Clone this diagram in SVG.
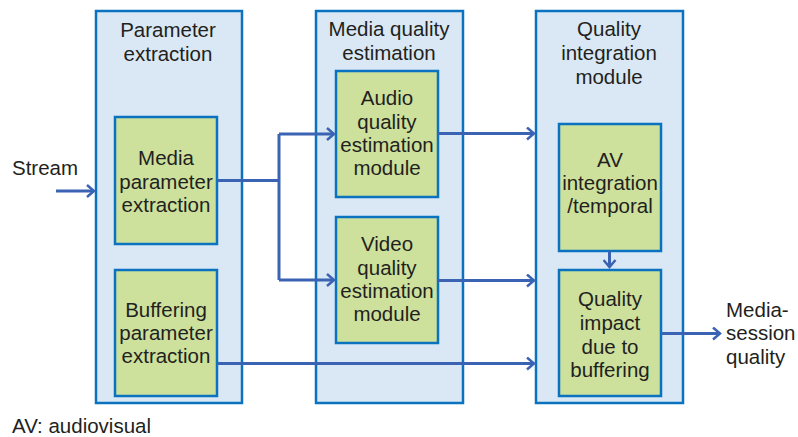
<svg xmlns="http://www.w3.org/2000/svg" width="798" height="437" viewBox="0 0 798 437">
<defs>
<style>
.outer{fill:#d9e8f4;stroke:#0a72bf;stroke-width:2.5}
.inner{fill:#cde19c;stroke:#0a72bf;stroke-width:2.5}
.t{font-family:"Liberation Sans",Arial,sans-serif;font-size:20.5px;fill:#231f20;text-anchor:middle}
.tl{font-family:"Liberation Sans",Arial,sans-serif;font-size:20.5px;fill:#231f20}
.c{fill:none;stroke:#3b63b3;stroke-width:3}
</style>
<marker id="ah" markerWidth="14" markerHeight="14" refX="10" refY="7" orient="auto" markerUnits="userSpaceOnUse">
<path d="M3,1 L10,7 L3,13" fill="none" stroke="#3b63b3" stroke-width="2.5"/>
</marker>
</defs>
<rect width="798" height="437" fill="#ffffff"/>
<g id="param-extraction">
<rect class="outer" x="96" y="11" width="146" height="392"/>
<text class="t" x="168" y="37">Parameter</text>
<text class="t" x="168" y="61">extraction</text>
</g>
<g id="media-quality-estimation">
<rect class="outer" x="316" y="11" width="147" height="392"/>
<text class="t" x="389" y="36">Media quality</text>
<text class="t" x="389" y="60">estimation</text>
</g>
<g id="quality-integration">
<rect class="outer" x="536" y="11" width="147" height="392"/>
<text class="t" x="609" y="36">Quality</text>
<text class="t" x="609" y="60">integration</text>
<text class="t" x="609" y="84">module</text>
</g>
<g id="media-param">
<rect class="inner" x="115" y="117" width="102" height="127"/>
<text class="t" x="166" y="165">Media</text>
<text class="t" x="166" y="189">parameter</text>
<text class="t" x="166" y="212">extraction</text>
</g>
<g id="buffering-param">
<rect class="inner" x="115" y="270" width="102" height="126"/>
<text class="t" x="166" y="317">Buffering</text>
<text class="t" x="166" y="340">parameter</text>
<text class="t" x="166" y="363">extraction</text>
</g>
<g id="audio">
<rect class="inner" x="336" y="71" width="102" height="126"/>
<text class="t" x="387" y="105">Audio</text>
<text class="t" x="387" y="129">quality</text>
<text class="t" x="387" y="152">estimation</text>
<text class="t" x="387" y="175">module</text>
</g>
<g id="video">
<rect class="inner" x="336" y="217" width="102" height="126"/>
<text class="t" x="387" y="251">Video</text>
<text class="t" x="387" y="275">quality</text>
<text class="t" x="387" y="298">estimation</text>
<text class="t" x="387" y="321">module</text>
</g>
<g id="av-integration">
<rect class="inner" x="559" y="124" width="102" height="127"/>
<text class="t" x="610" y="167">AV</text>
<text class="t" x="610" y="190">integration</text>
<text class="t" x="610" y="213">/temporal</text>
</g>
<g id="quality-impact">
<rect class="inner" x="559" y="270" width="102" height="126"/>
<text class="t" x="610" y="306">Quality</text>
<text class="t" x="610" y="330">impact</text>
<text class="t" x="610" y="354">due to</text>
<text class="t" x="610" y="377">buffering</text>
</g>
<g id="connectors">
<path class="c" d="M56,191 L94,191" marker-end="url(#ah)"/>
<path class="c" d="M217,180.5 L279,180.5"/>
<path class="c" d="M279,134 L279,280"/>
<path class="c" d="M279,134 L334,134" marker-end="url(#ah)"/>
<path class="c" d="M279,280 L334,280" marker-end="url(#ah)"/>
<path class="c" d="M438,133.5 L534,133.5" marker-end="url(#ah)"/>
<path class="c" d="M438,280.5 L534,280.5" marker-end="url(#ah)"/>
<path class="c" d="M217,363.5 L534,363.5" marker-end="url(#ah)"/>
<path class="c" d="M609.5,251 L609.5,267" marker-end="url(#ah)"/>
<path class="c" d="M661,333.5 L720,333.5" marker-end="url(#ah)"/>
</g>
<g id="labels">
<text class="tl" x="12" y="175">Stream</text>
<text class="tl" x="726" y="317">Media-</text>
<text class="tl" x="726" y="340">session</text>
<text class="tl" x="726" y="364">quality</text>
<text class="tl" x="12" y="433">AV: audiovisual</text>
</g>
</svg>
